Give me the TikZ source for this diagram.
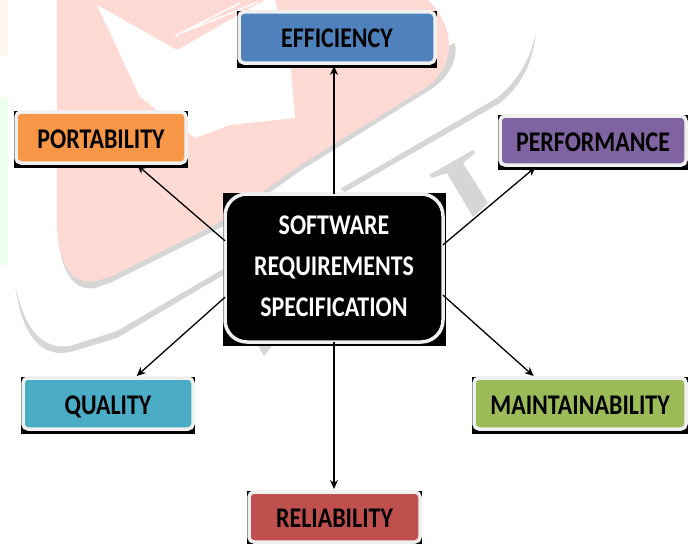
\documentclass[tikz,border=0pt]{standalone}
\usepackage{fontspec}
\setmainfont[FakeStretch=0.84]{Carlito}
\definecolor{wmpink}{HTML}{FFDAD4}
\definecolor{wmgrey}{HTML}{D6D6D6}
\definecolor{edgewhite}{HTML}{F0F0F0}
\definecolor{effblue}{HTML}{4F81BD}
\definecolor{portorange}{HTML}{F79646}
\definecolor{perfpurple}{HTML}{8064A2}
\definecolor{qualaqua}{HTML}{4BACC6}
\definecolor{maintgreen}{HTML}{9BBB59}
\definecolor{relired}{HTML}{C0504D}
\tikzset{
    reqbox/.style={draw=edgewhite, line width=3.5pt, rounded corners=5pt, outer sep=0pt, inner sep=0pt, font=\fontsize{28.5}{24}\selectfont\bfseries},
    reqarrow/.style={-{Stealth[length=9pt,width=8pt]}, line width=1.3pt, shorten >=3pt}
}
\usetikzlibrary{arrows.meta}
\begin{document}
\begin{tikzpicture}[x=1pt, y=-1pt]
    \useasboundingbox (0,0) rectangle (692,543);

    % watermark behind the diagram
    \fill[orange!6] (0,0) rectangle (8,55);
    \fill[green!7] (0,97) rectangle (8,265);
    \fill[wmgrey] (57,220) .. controls (58,265) and (70,292) .. (95,288) -- (110,283) -- (220,228) -- (300,171) -- (433,88) .. controls (450,75) and (458,60) .. (455,43) -- cycle;
    \fill[wmpink] (57,0) -- (57,220) .. controls (58,262) and (70,285) .. (95,281) -- (110,277) -- (220,222) -- (300,165) -- (425,88) .. controls (450,72) and (462,35) .. (428,0) -- cycle;
    \fill[white] (97,5) -- (140,97) -- (195,138) -- (230,125) -- (295,118) -- (290,60) -- (275,0) -- (265,0) -- (177,50) -- cycle;
    \draw[white, line width=1.5pt] (175,36) -- (240,3) (184,32) -- (258,2);
    \fill[wmgrey] (15,285) .. controls (22,335) and (40,358) .. (70,352) -- (117,338) -- (225,274) -- (225,268) -- (117,331) -- (70,346) .. controls (42,350) and (25,330) .. (15,285) -- cycle;
    \fill[wmgrey] (345,192) -- (500,103) .. controls (522,85) and (533,62) .. (536,33) .. controls (530,60) and (518,80) .. (497,98) -- (340,189) -- cycle;
    \fill[wmgrey] (429,175) -- (473,150) -- (475,153) -- (463,163) -- (488,203) -- (473,217) -- (447,173) -- (432,178) -- cycle;
    \fill[wmgrey] (258,346) -- (272,346) -- (264,356) -- cycle;

    % black backing and the boxes
    \foreach \boxname/\cx/\cy/\w/\h/\col/\lbl in {
        eff/337/39.5/200/57/effblue/EFFICIENCY,
        port/101/139.5/174/57/portorange/PORTABILITY,
        perf/593/142.5/190/55/perfpurple/PERFORMANCE,
        qual/108/405.5/174/57/qualaqua/QUALITY,
        maint/580/405.5/216/57/maintgreen/MAINTAINABILITY,
        reli/334.5/519/175/56/relired/RELIABILITY}
    {
        \fill[black] (\cx-\w/2,\cy-\h/2) rectangle (\cx+\w/2,\cy+\h/2);
        \node[reqbox, fill=\col, text height=21pt, text depth=0pt, minimum width=\w pt-4pt, minimum height=\h pt-6pt] (\boxname) at (\cx,\cy-2) {\lbl};
    }

    \fill[black] (223,193) rectangle (446,346);
    \node[reqbox, fill=black, text=white, rounded corners=22pt, text depth=4pt, minimum width=218pt, minimum height=148pt, align=center] (srs) at (334,268)
        {SOFTWARE\\[17pt]REQUIREMENTS\\[17pt]SPECIFICATION};

    % connectors
    \draw[reqarrow] (srs.north) -- (srs.north |- eff.south);
    \draw[reqarrow] (srs.south) -- (srs.south |- reli.north);
    \draw[reqarrow] (srs.166) -- (port.-37);
    \draw[reqarrow] (srs.12) -- (perf.204);
    \draw[reqarrow] (srs.195) -- (qual.44);
    \draw[reqarrow] (srs.-14) -- (maint.150);
\end{tikzpicture}
\end{document}
